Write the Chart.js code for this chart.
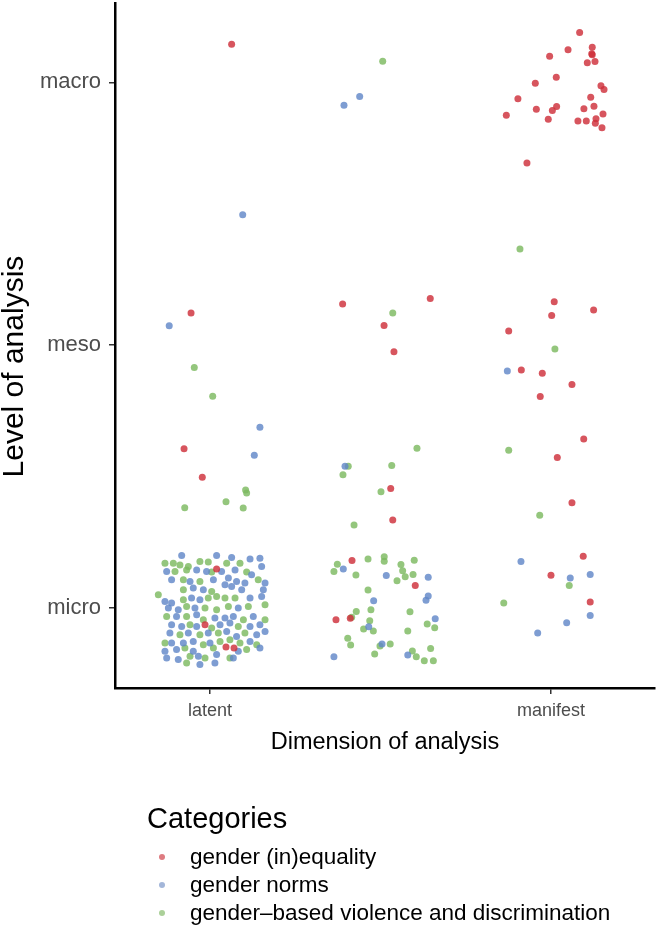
<!DOCTYPE html>
<html>
<head>
<meta charset="utf-8">
<script src="https://cdn.jsdelivr.net/npm/chart.js@4"></script>
<style>
  html, body { margin: 0; padding: 0; background: #fff; }
  #wrap { position: relative; width: 666px; height: 939px; font-family: "Liberation Sans", Arial, sans-serif; }
  #c { position: absolute; left: 0; top: 0; }
  #legend { position: absolute; left: 147px; top: 800px; }
  #legend .title { font-size: 29px; color: #000; line-height: 36px; margin-bottom: 7px; }
  #legend .item { position: relative; height: 28px; line-height: 28px; font-size: 22.5px; color: #000; padding-left: 43px; }
  #legend .dot { position: absolute; left: 12px; top: 11px; width: 6px; height: 6px; border-radius: 50%; }
</style>
</head>
<body>
<div id="wrap">
  <canvas id="c" width="666" height="939"></canvas>
  <div id="legend"></div>
</div>
<script>
// ---- categories / tick labels ----
const categories = ['gender (in)equality', 'gender norms', 'gender\u2013based violence and discrimination'];
const xTickValues = [1, 3];
const xTickLabels = ['latent', 'manifest'];
const yTickValues = [1, 2, 3];
const yTickLabels = ['micro', 'meso', 'macro'];

// ---- series values (jittered positions) ----
const inequalityX = [1.127, 0.889, 0.848, 0.955, 0.971, 1.039, 1.094, 1.141,
  1.778, 2.021, 2.079, 2.292, 2.060, 2.072, 1.833, 2.204, 1.739, 1.823,
  3.168, 3.242, 3.239, 3.242, 3.100, 2.992, 3.213, 3.258, 3.031, 2.908, 3.293, 3.311, 2.806, 3.233,
  2.738, 2.914, 3.033, 3.008, 3.193, 3.252, 3.305, 2.984, 3.158, 3.207, 3.264, 3.260, 3.299, 2.859,
  3.019, 3.004, 3.250, 2.752, 2.826, 2.949, 3.123, 2.937, 3.192, 3.037, 3.123, 3.189, 3.000, 3.230];
const inequalityY = [3.145, 2.123, 1.606, 1.498, 0.937, 1.149, 0.852, 0.848,
  2.157, 2.075, 1.975, 2.178, 1.455, 1.335, 1.181, 1.086, 0.956, 0.961,
  3.190, 3.134, 3.109, 3.105, 3.124, 3.099, 3.075, 3.079, 3.019, 2.997, 2.987, 2.973, 2.938, 2.943,
  2.875, 2.898, 2.908, 2.893, 2.900, 2.909, 2.880, 2.860, 2.853, 2.853, 2.862, 2.844, 2.827, 2.693,
  2.165, 2.113, 2.134, 2.054, 1.906, 1.893, 1.851, 1.805, 1.643, 1.573, 1.401, 1.197, 1.125, 1.023];

const normsX = [1.192, 1.878, 1.786, 0.761, 1.293, 1.260, 1.792, 1.782, 2.034, 2.280, 1.960, 2.280, 2.267,
  2.321, 1.931, 2.009, 1.727, 2.160, 2.744, 2.824, 3.113, 3.230, 3.230, 3.092, 2.922,
  0.834, 1.039, 1.127, 1.235, 1.293, 1.303, 0.746, 0.922, 0.980, 1.068, 1.147, 1.244,
  0.775, 0.883, 1.020, 1.108, 1.156, 1.205, 1.323, 0.902, 0.961, 1.088, 1.127, 1.186, 1.313,
  0.736, 0.775, 0.892, 0.941, 1.235, 1.303, 0.756, 0.814, 0.912, 1.166,
  0.804, 0.922, 1.029, 1.088, 1.137, 1.254, 0.775, 0.834, 0.922, 1.059, 1.117, 1.235, 1.293,
  0.765, 0.873, 0.990, 1.098, 1.156, 1.274, 1.323, 0.775, 0.844, 0.902, 1.000, 1.235,
  0.736, 0.804, 0.902, 1.166, 1.293, 0.746, 0.814, 0.932, 1.039, 1.137, 0.941, 1.029];
const normsY = [2.496, 2.946, 2.913, 2.074, 1.688, 1.581, 1.540, 1.149, 1.124, 1.117, 1.028, 1.046, 1.030,
  0.959, 0.929, 0.863, 0.815, 0.822, 1.902, 1.177, 1.114, 1.128, 0.972, 0.944, 0.905,
  1.200, 1.200, 1.192, 1.187, 1.190, 1.158, 1.139, 1.145, 1.139, 1.139, 1.145, 1.127,
  1.108, 1.101, 1.108, 1.114, 1.101, 1.095, 1.095, 1.076, 1.070, 1.089, 1.082, 1.070, 1.070,
  1.025, 1.019, 1.038, 1.032, 1.038, 1.044, 1.000, 0.994, 1.000, 1.000,
  0.968, 0.975, 0.962, 0.962, 0.968, 0.968, 0.937, 0.930, 0.930, 0.937, 0.943, 0.930, 0.937,
  0.905, 0.905, 0.905, 0.911, 0.892, 0.899, 0.911, 0.867, 0.867, 0.873, 0.867, 0.873,
  0.836, 0.842, 0.836, 0.836, 0.848, 0.810, 0.804, 0.817, 0.823, 0.810, 0.785, 0.791];

const violenceX = [2.013, 0.908, 1.016, 1.209, 1.215, 1.094, 0.852, 1.195, 2.072, 1.811, 1.780, 2.066,
  2.003, 1.845, 2.214, 2.818, 3.023, 2.752, 2.934, 3.107, 2.723,
  1.747, 1.727, 1.927, 2.022, 2.022, 2.120, 2.198, 1.856, 2.130, 2.145, 2.191, 2.097, 1.927, 1.858,
  1.944, 2.173, 1.831, 1.937, 2.274, 2.318, 1.901, 1.958, 2.160, 1.808, 1.825, 1.997, 2.057, 2.294,
  1.966, 2.187, 2.210, 2.257, 2.310,
  0.736, 0.785, 0.824, 0.873, 0.941, 0.990, 1.098, 1.176, 0.795, 0.863, 1.010, 1.215,
  0.844, 0.941, 1.283, 0.844, 1.010, 0.697, 0.844, 0.990, 1.039, 1.088, 1.147,
  0.863, 0.971, 1.039, 1.108, 1.225, 1.323, 0.746, 0.863, 0.961, 1.196, 1.323,
  0.883, 1.010, 1.166, 0.824, 0.941, 1.049, 1.205, 0.736, 0.961, 1.059, 1.117, 1.176, 1.274,
  0.853, 1.020, 1.215, 0.883, 0.971, 1.117, 0.863];
const violenceY = [3.080, 1.915, 1.806, 1.449, 1.438, 1.405, 1.382, 1.381, 2.123, 1.540, 1.507, 1.542,
  1.443, 1.316, 1.608, 2.366, 1.986, 1.600, 1.353, 1.086, 1.019,
  1.167, 1.139, 1.187, 1.195, 1.178, 1.166, 1.182, 1.126, 1.142, 1.119, 1.128, 1.104, 1.069, 0.987,
  0.994, 0.986, 0.965, 0.952, 0.939, 0.925, 0.920, 0.913, 0.913, 0.885, 0.860, 0.856, 0.863, 0.846,
  0.825, 0.837, 0.815, 0.800, 0.800,
  1.171, 1.171, 1.164, 1.158, 1.177, 1.175, 1.171, 1.171, 1.139, 1.145, 1.137, 1.137,
  1.108, 1.101, 1.108, 1.070, 1.063, 1.051, 1.032, 1.038, 1.044, 1.038, 1.038,
  1.006, 1.000, 0.994, 1.006, 1.006, 1.013, 0.968, 0.968, 0.956, 0.956, 0.956,
  0.937, 0.924, 0.930, 0.899, 0.899, 0.905, 0.905, 0.867, 0.861, 0.873, 0.880, 0.867, 0.861,
  0.848, 0.848, 0.842, 0.817, 0.810, 0.810, 0.791];

// ---- styling ----
const colors = ['rgba(206,48,58,0.82)', 'rgba(98,136,200,0.82)', 'rgba(124,186,96,0.82)'];
const legendColors = ['rgba(214,90,98,0.8)', 'rgba(140,164,208,0.8)', 'rgba(150,196,128,0.8)'];

function zip(xs, ys) { return xs.map((x, i) => ({ x: x, y: ys[i] })); }
const seriesX = [inequalityX, normsX, violenceX];
const seriesY = [inequalityY, normsY, violenceY];

const datasets = categories.map((name, i) => ({
  label: name,
  data: zip(seriesX[i], seriesY[i]),
  backgroundColor: colors[i],
  borderWidth: 0,
  pointRadius: 3.5,
  pointHoverRadius: 3.5
}));

const tickCol = '#4d4d4d';
new Chart(document.getElementById('c'), {
  type: 'scatter',
  data: { datasets: datasets },
  options: {
    responsive: false,
    animation: false,
    events: [],
    layout: { padding: { top: 2, right: 11, bottom: 170, left: 0 } },
    plugins: { legend: { display: false }, tooltip: { enabled: false } },
    scales: {
      x: {
        type: 'linear', min: 0.443, max: 3.610,
        afterFit: s => { s.height = 81; s.paddingLeft = 0; s.paddingRight = 0; },
        afterBuildTicks: s => { s.ticks = xTickValues.map(v => ({ value: v })); },
        ticks: {
          callback: v => xTickLabels[xTickValues.indexOf(v)],
          font: { family: 'Liberation Sans', size: 18 }, color: tickCol,
          padding: 6, autoSkip: false, maxRotation: 0
        },
        grid: { drawOnChartArea: false, drawTicks: true, tickLength: 6, color: '#333', lineWidth: 1.5 },
        border: { display: true, color: '#000', width: 2.5 },
        title: { display: true, text: 'Dimension of analysis', color: '#000',
          font: { family: 'Liberation Sans', size: 23.5 }, padding: { top: 0, bottom: 12 } }
      },
      y: {
        type: 'linear', min: 0.696, max: 3.300,
        afterFit: s => { s.width = 115; s.paddingTop = 0; s.paddingBottom = 0; },
        afterBuildTicks: s => { s.ticks = yTickValues.map(v => ({ value: v })); },
        ticks: {
          callback: v => yTickLabels[yTickValues.indexOf(v)],
          font: { family: 'Liberation Sans', size: 22 }, color: tickCol,
          padding: 8, autoSkip: false
        },
        grid: { drawOnChartArea: false, drawTicks: true, tickLength: 6, color: '#333', lineWidth: 1.5 },
        border: { display: true, color: '#000', width: 2.5 },
        title: { display: true, text: 'Level of analysis\u00A0\u00A0\u00A0\u00A0\u00A0', color: '#000',
          font: { family: 'Liberation Sans', size: 30, lineHeight: 1 }, padding: { top: 0, bottom: 0 } }
      }
    }
  }
});

// ---- legend (HTML text) ----
const lg = document.getElementById('legend');
const t = document.createElement('div'); t.className = 'title'; t.textContent = 'Categories'; lg.appendChild(t);
categories.forEach((name, i) => {
  const it = document.createElement('div'); it.className = 'item';
  const d = document.createElement('span'); d.className = 'dot'; d.style.background = legendColors[i];
  it.appendChild(d); it.appendChild(document.createTextNode(name)); lg.appendChild(it);
});
</script>
</body>
</html>
